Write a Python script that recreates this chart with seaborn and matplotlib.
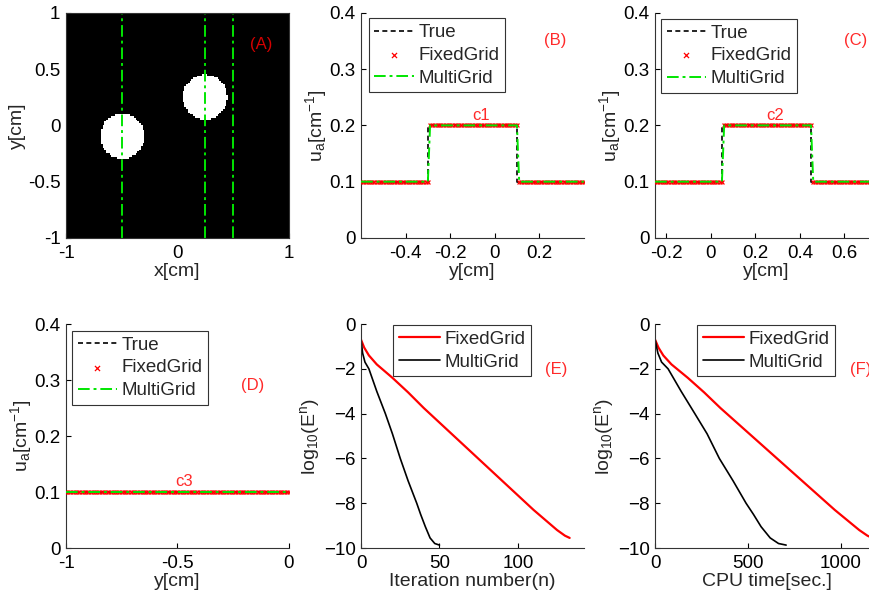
import numpy as np
import matplotlib
matplotlib.use("Agg")
import matplotlib.pyplot as plt
import seaborn as sns

# ── data ─────────────────────────────────────────────────────────────────────
# panel A: phantom with two circular inclusions
circle_cx     = [-0.5, 0.25]
circle_cy     = [-0.1, 0.25]
circle_r      = [0.2, 0.2]
ua_background = 0.1
ua_inclusion  = 0.2
profile_x     = [-0.5, 0.25, 0.5]     # vertical lines c1, c2, c3

# profiles c1, c2, c3 (y range, step positions, levels)
c1_range, c1_breaks, c1_levels = [-0.6, 0.4], [-0.3, 0.1], [0.1, 0.2, 0.1]
c2_range, c2_breaks, c2_levels = [-0.25, 0.75], [0.05, 0.45], [0.1, 0.2, 0.1]
c3_range, c3_breaks, c3_levels = [-1.0, 0.0], [], [0.1]
grid_step = 0.01

# panel E: log10 error vs iteration
fixed_iter = [0, 2, 5, 10, 15, 20, 30, 40, 50, 60, 70, 80, 90, 100, 110, 120, 125, 130, 133]
fixed_err  = [-0.7, -1.05, -1.4, -1.8, -2.1, -2.4, -3.05, -3.75, -4.4, -5.05, -5.7,
              -6.35, -7.0, -7.65, -8.3, -8.9, -9.2, -9.45, -9.55]
multi_iter = [0, 1, 2.5, 5, 10, 15.5, 20, 25, 30, 35.5, 38, 41, 44, 47, 50]
multi_err  = [-0.7, -1.3, -1.7, -2.0, -3.0, -4.0, -4.9, -6.0, -7.0, -8.0, -8.5,
              -9.05, -9.55, -9.8, -9.87]

# panel F: log10 error vs CPU time
fixed_time  = [0, 18, 44, 88, 132, 176, 264, 352, 440, 528, 616, 704, 792, 880,
               968, 1056, 1100, 1144, 1170]
fixed_err_t = [-0.7, -1.05, -1.4, -1.8, -2.1, -2.4, -3.05, -3.75, -4.4, -5.05, -5.7,
               -6.35, -7.0, -7.65, -8.3, -8.9, -9.2, -9.45, -9.55]
multi_time  = [0, 15, 35, 70, 140, 214, 280, 346, 420, 490, 530, 571, 620, 665, 706]
multi_err_t = [-0.7, -1.3, -1.7, -2.0, -3.0, -4.0, -4.9, -6.0, -7.0, -8.0, -8.5,
               -9.05, -9.55, -9.8, -9.87]

# ── style ────────────────────────────────────────────────────────────────────
sns.set_style("ticks", {"xtick.direction": "in", "ytick.direction": "in"})
plt.rcParams["font.family"] = ["Liberation Sans", "DejaVu Sans"]
plt.rcParams["mathtext.default"] = "regular"
plt.rcParams["axes.edgecolor"] = "#333333"
plt.rcParams["axes.linewidth"] = 0.8

FS_TICK = 13.5
FS_LAB = 14
FS_LEG = 13.5
FS_TAG = 12
GREEN = "#00e600"
DASHDOT = (0, (6, 2, 1.5, 2))
LBL_RED = "#ff2a2a"

fig = plt.figure(figsize=(8.7, 6.02), dpi=100)
W, H_TOP, H_BOT = 0.256, 0.374, 0.372
lefts = [0.0759, 0.415, 0.753]
b_top, b_bot = 0.6047, 0.0897
axA = fig.add_axes([lefts[0], b_top, W, H_TOP])
axB = fig.add_axes([lefts[1], b_top, W, H_TOP])
axC = fig.add_axes([lefts[2], b_top, W, H_TOP])
axD = fig.add_axes([lefts[0], b_bot, W, H_BOT])
axE = fig.add_axes([lefts[1], b_bot, W, H_BOT])
axF = fig.add_axes([lefts[2], b_bot, W, H_BOT])


def style_ax(ax, box=False):
    ax.tick_params(labelsize=FS_TICK, length=3.5, width=0.8, colors="black")
    ax.tick_params(axis="x", pad=5)
    ax.tick_params(axis="y", pad=4)
    for s in ax.spines.values():
        s.set_color("#333333")
    if not box:
        sns.despine(ax=ax)


def make_legend(ax, left, top, hlen, lspace):
    leg = ax.legend(loc="upper left", bbox_to_anchor=(left, top), fontsize=FS_LEG,
                    frameon=True, fancybox=False, edgecolor="#333333", framealpha=1,
                    handlelength=hlen, handletextpad=0.25, labelspacing=lspace,
                    borderpad=0.3, borderaxespad=0, markerscale=1.3)
    leg.get_frame().set_linewidth(0.8)


# ── A: phantom image ─────────────────────────────────────────────────────────
n_pix = 128
xs = np.linspace(-1, 1, n_pix)
XX, YY = np.meshgrid(xs, xs)
img = np.full_like(XX, ua_background)
for cx, cy, r in zip(circle_cx, circle_cy, circle_r):
    img[(XX - cx) ** 2 + (YY - cy) ** 2 <= r ** 2] = ua_inclusion
axA.imshow(img, cmap="gray", origin="lower", extent=[-1, 1, -1, 1],
           aspect="auto", interpolation="nearest")
for px in profile_x:
    axA.axvline(px, color=GREEN, ls=DASHDOT, lw=1.4)
axA.set_xlim(-1, 1); axA.set_ylim(-1, 1)
axA.set_xticks([-1, 0, 1]); axA.set_yticks([-1, -0.5, 0, 0.5, 1])
axA.set_xticklabels(["-1", "0", "1"]); axA.set_yticklabels(["-1", "-0.5", "0", "0.5", "1"])
axA.set_xlabel("x[cm]", fontsize=FS_LAB, labelpad=1)
axA.set_ylabel("y[cm]", fontsize=FS_LAB, labelpad=1)
axA.text(0.75, 0.72, "(A)", color="#d40000", fontsize=FS_TAG, ha="center", va="center")
style_ax(axA, box=True)


# ── B, C, D: profiles ────────────────────────────────────────────────────────
def profile(ax, yr, breaks, levels, tag, tag_xy, cname, cname_xy, xticks, leg_pos):
    grid = np.arange(yr[0], yr[1] + grid_step / 2, grid_step)
    vals = np.array(levels)[np.searchsorted(breaks, grid - 1e-9)]
    tx = [yr[0]]
    ty = [levels[0]]
    for k, bk in enumerate(breaks):
        tx += [bk, bk]
        ty += [levels[k], levels[k + 1]]
    tx.append(yr[1]); ty.append(levels[-1])
    sns.lineplot(x=tx, y=ty, ax=ax, color="black", ls=(0, (3, 2)), lw=1.2,
                 estimator=None, sort=False, label="True")
    sns.scatterplot(x=grid, y=vals, ax=ax, color="red", marker="x", s=8,
                    linewidth=0.9, label="FixedGrid", zorder=3)
    sns.lineplot(x=grid, y=vals, ax=ax, color=GREEN, ls=DASHDOT, lw=1.4,
                 estimator=None, sort=False, label="MultiGrid", zorder=4)
    ax.set_xlim(yr); ax.set_ylim(0, 0.4)
    ax.set_xticks(xticks)
    ax.set_xticklabels([f"{t:g}" for t in xticks])
    ax.set_yticks([0, 0.1, 0.2, 0.3, 0.4])
    ax.set_yticklabels(["0", "0.1", "0.2", "0.3", "0.4"])
    ax.set_xlabel("y[cm]", fontsize=FS_LAB, labelpad=1)
    ax.set_ylabel(r"u$_a$[cm$^{-1}$]", fontsize=FS_LAB, labelpad=0)
    ax.text(*tag_xy, tag, color=LBL_RED, fontsize=FS_TAG, ha="center", va="center")
    ax.text(*cname_xy, cname, color=LBL_RED, fontsize=FS_TAG, ha="center", va="bottom")
    make_legend(ax, leg_pos[0], leg_pos[1], 2.1, 0.3)
    style_ax(ax)


profile(axB, c1_range, c1_breaks, c1_levels, "(B)", (0.27, 0.35), "c1", (-0.06, 0.205),
        [-0.4, -0.2, 0, 0.2], (0.035, 0.975))
profile(axC, c2_range, c2_breaks, c2_levels, "(C)", (0.65, 0.35), "c2", (0.29, 0.205),
        [-0.2, 0, 0.2, 0.4, 0.6], (0.027, 0.973))
profile(axD, c3_range, c3_breaks, c3_levels, "(D)", (-0.16, 0.29), "c3", (-0.47, 0.105),
        [-1, -0.5, 0], (0.027, 0.969))


# ── E, F: convergence ────────────────────────────────────────────────────────
def convergence(ax, fx, fy, mx, my, xlim, xticks, xlabel, tag, tag_xy, leg_left):
    sns.lineplot(x=fx, y=fy, ax=ax, color="red", lw=1.6, estimator=None, sort=False,
                 label="FixedGrid")
    sns.lineplot(x=mx, y=my, ax=ax, color="black", lw=1.2, estimator=None, sort=False,
                 label="MultiGrid")
    ax.set_xlim(xlim); ax.set_ylim(-10, 0)
    ax.set_xticks(xticks)
    ax.set_yticks([-10, -8, -6, -4, -2, 0])
    ax.set_xlabel(xlabel, fontsize=FS_LAB, labelpad=1)
    ax.set_ylabel(r"log$_{10}$(E$^n$)", fontsize=FS_LAB, labelpad=1)
    ax.text(*tag_xy, tag, color=LBL_RED, fontsize=FS_TAG, ha="left", va="center")
    make_legend(ax, leg_left, 0.995, 2.2, 0.3)
    style_ax(ax)


convergence(axE, fixed_iter, fixed_err, multi_iter, multi_err, (0, 142), [0, 50, 100],
            "Iteration number(n)", "(E)", (117, -2.05), 0.144)
convergence(axF, fixed_time, fixed_err_t, multi_time, multi_err_t, (0, 1200), [0, 500, 1000],
            "CPU time[sec.]", "(F)", (1050, -2.05), 0.188)

fig.savefig("out.png", dpi=100)
